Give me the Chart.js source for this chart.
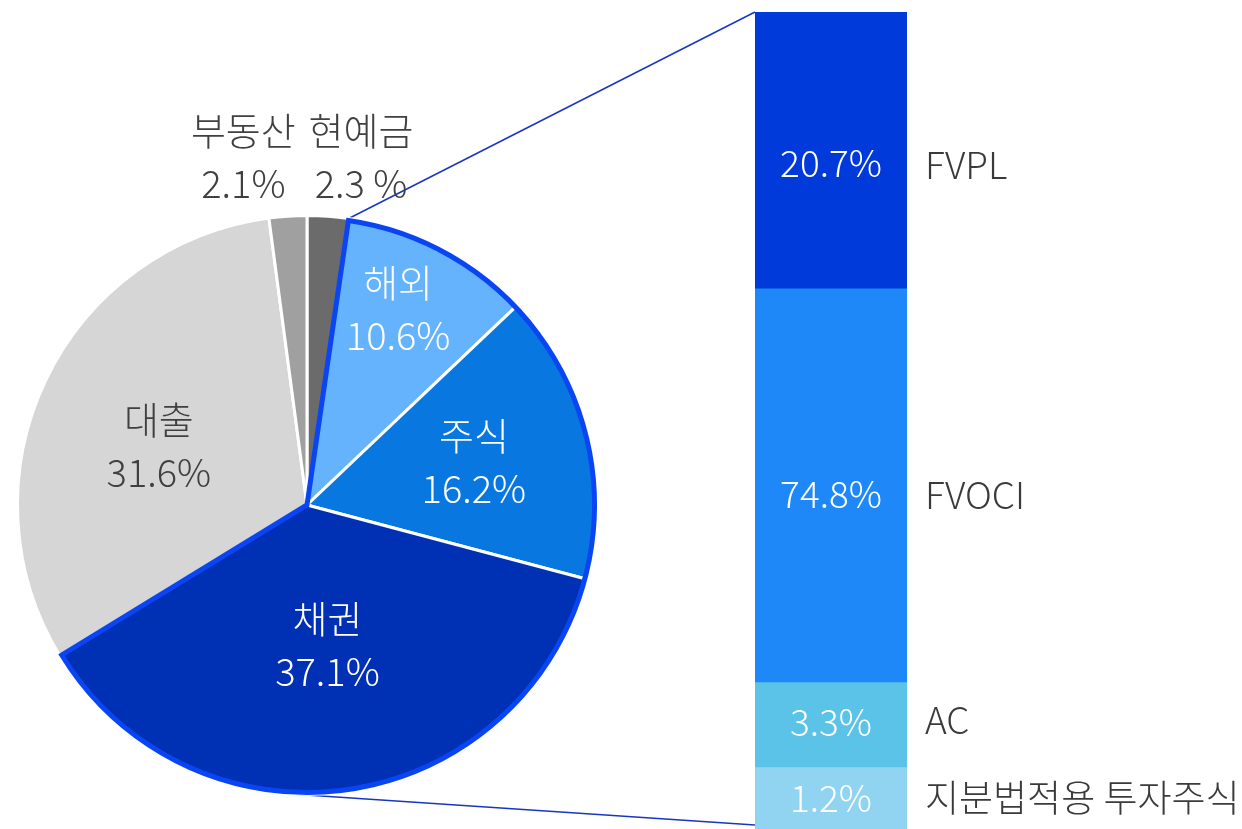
<!DOCTYPE html>
<html>
<head>
<meta charset="utf-8">
<script src="https://cdn.jsdelivr.net/npm/chart.js@4.4.0/dist/chart.umd.min.js"></script>
<style>
    html, body { margin: 0; padding: 0; background: #fff; }
    #wrap { position: relative; width: 1242px; height: 829px; overflow: hidden; }
    #pie { position: absolute; left: 0; top: 0; }
    #bar { position: absolute; left: 755px; top: 12px; }
</style>
</head>
<body>
<div id="wrap">
    <canvas id="pie" width="1242" height="829"></canvas>
    <canvas id="bar" width="487" height="817"></canvas>
</div>
<script>
// 운용자산 구성
const pieLabels = ['현예금', '해외', '주식', '채권', '대출', '부동산'];
const pieValues = [2.3, 10.6, 16.2, 37.1, 31.6, 2.1];
const pieValueText = ['2.3 %', '10.6%', '16.2%', '37.1%', '31.6%', '2.1%'];
const pieColors = ['#6b6b6b', '#64b3fc', '#0878e0', '#0030b4', '#d6d6d6', '#a0a0a0'];

// 유가증권 분류
const barLabels = ['FVPL', 'FVOCI', 'AC', '지분법적용 투자주식'];
const barValues = [20.7, 74.8, 3.3, 1.2];
// share of the column each block takes in the picture (not to scale with the values)
const barShare = [33.8, 48.2, 10.4, 7.6];
const barColors = ['#003adb', '#1e88f8', '#5bc2e8', '#91d4f2'];

const FONT = '"Noto Sans CJK KR", "Noto Sans", sans-serif';
const FONT_W = '300 ';

// small vertical nudges for the texts of each block (value, name)
const barTextNudge = { value: [13, 9, -2, 0], name: [15, 10, -4, 0] };

const barTextPlugin = {
    id: 'barText',
    afterDatasetsDraw(chart) {
        const ctx = chart.ctx;
        ctx.save();
        ctx.textBaseline = 'middle';
        chart.data.datasets.forEach((ds, i) => {
            const el = chart.getDatasetMeta(i).data[0];
            const cy = (el.y + el.base) / 2;
            ctx.font = FONT_W + '37px ' + FONT;
            ctx.fillStyle = '#ffffff';
            ctx.textAlign = 'center';
            ctx.fillText(barValues[i].toFixed(1) + '%', el.x, cy + barTextNudge.value[i]);
            ctx.fillStyle = '#3a3a3a';
            ctx.textAlign = 'left';
            ctx.fillText(barLabels[i], el.x + el.width / 2 + 18, cy + barTextNudge.name[i]);
        });
        ctx.restore();
    }
};

const barChart = new Chart(document.getElementById('bar').getContext('2d'), {
    type: 'bar',
    data: {
        labels: ['유가증권'],
        datasets: barLabels.map((l, i) => ({
            label: l,
            data: [barShare[i]],
            backgroundColor: barColors[i],
            borderWidth: 0,
            barPercentage: 1,
            categoryPercentage: 1,
        })),
    },
    options: {
        responsive: false,
        animation: false,
        layout: { padding: { left: 0, right: 335, top: 0, bottom: 0 } },
        scales: {
            x: { display: false, stacked: true },
            y: { display: false, stacked: true, min: 0, max: 100, reverse: true }
        },
        plugins: { legend: { display: false }, tooltip: { enabled: false } }
    },
    plugins: [barTextPlugin]
});

const connectorPlugin = {
    id: 'connector',
    beforeDatasetsDraw(chart) {
        const meta = chart.getDatasetMeta(0);
        const first = meta.data[1];
        const cx = first.x, cy = first.y, r = first.outerRadius;
        const barEl = barChart.getDatasetMeta(0).data[0];
        const lastEl = barChart.getDatasetMeta(barLabels.length - 1).data[0];
        const cv = document.getElementById('bar');
        const bx = cv.offsetLeft + barEl.x - barEl.width / 2;
        const topY = cv.offsetTop + Math.min(barEl.y, barEl.base);
        const botY = cv.offsetTop + Math.max(lastEl.y, lastEl.base) - 4;
        const ctx = chart.ctx;
        ctx.save();
        ctx.strokeStyle = '#1836c0';
        ctx.lineWidth = 1.5;
        // upper line from start of the securities group
        const a0 = first.startAngle;
        ctx.beginPath();
        ctx.moveTo(cx + Math.cos(a0) * r, cy + Math.sin(a0) * r);
        ctx.lineTo(bx, topY);
        ctx.stroke();
        // lower line tangent to the pie
        const dx = bx - cx, dy = botY - cy;
        const d = Math.hypot(dx, dy);
        const t = Math.atan2(dy, dx) + Math.acos(r / d);
        ctx.beginPath();
        ctx.moveTo(cx + Math.cos(t) * r, cy + Math.sin(t) * r);
        ctx.lineTo(bx, botY);
        ctx.stroke();
        ctx.restore();
    },
    afterDatasetsDraw(chart) {
        // outline around 해외 + 주식 + 채권
        const meta = chart.getDatasetMeta(0);
        const a = meta.data[1], c = meta.data[3];
        const ctx = chart.ctx;
        const r = a.outerRadius - 2;
        ctx.save();
        ctx.strokeStyle = '#0a45f5';
        ctx.lineWidth = 5;
        ctx.lineJoin = 'miter';
        ctx.beginPath();
        ctx.moveTo(a.x, a.y);
        ctx.arc(a.x, a.y, r, a.startAngle, c.endAngle);
        ctx.closePath();
        ctx.stroke();
        ctx.restore();
    }
};

// label placement: radius fraction and angle shift (deg) for each slice
const labelPlace = {
    radius: [1.214, 0.745, 0.595, 0.49, 0.55, 1.22],
    shift: [4.7, -2.4, 0, 0, -4, -6.6],
    color: ['#404040', '#ffffff', '#ffffff', '#ffffff', '#404040', '#404040']
};

const pieTextPlugin = {
    id: 'pieText',
    afterDraw(chart) {
        const meta = chart.getDatasetMeta(0);
        const ctx = chart.ctx;
        ctx.save();
        ctx.textAlign = 'center';
        ctx.textBaseline = 'middle';
        ctx.font = FONT_W + '38px ' + FONT;
        meta.data.forEach((el, i) => {
            const mid = (el.startAngle + el.endAngle) / 2 + labelPlace.shift[i] * Math.PI / 180;
            const rr = el.outerRadius * labelPlace.radius[i];
            const x = el.x + Math.cos(mid) * rr;
            const y = el.y + Math.sin(mid) * rr;
            ctx.fillStyle = labelPlace.color[i];
            ctx.fillText(pieLabels[i], x, y - 27);
            ctx.fillText(pieValueText[i], x, y + 26);
        });
        ctx.restore();
    }
};

const pieChart = new Chart(document.getElementById('pie').getContext('2d'), {
    type: 'pie',
    data: {
        labels: pieLabels,
        datasets: [{
            data: pieValues,
            backgroundColor: pieColors,
            borderColor: '#ffffff',
            borderWidth: 3,
        }]
    },
    options: {
        responsive: false,
        animation: false,
        layout: { padding: { left: 16, right: 644, top: 213, bottom: 32 } },
        plugins: { legend: { display: false }, tooltip: { enabled: false } }
    },
    plugins: [connectorPlugin, pieTextPlugin]
});
</script>
</body>
</html>
